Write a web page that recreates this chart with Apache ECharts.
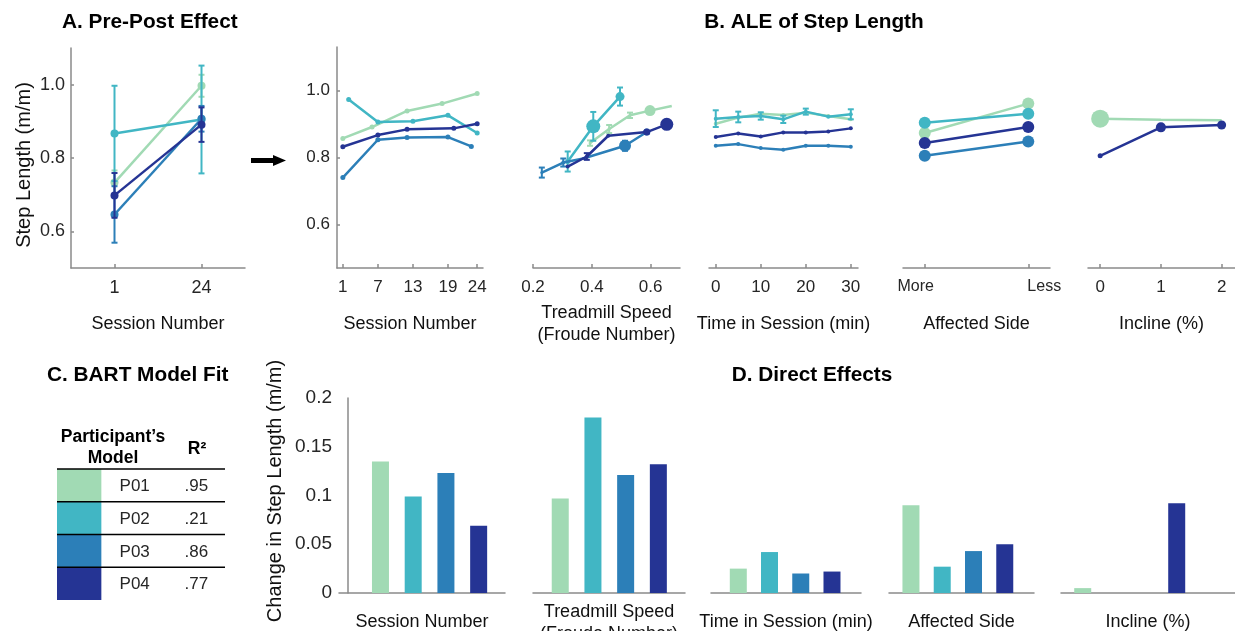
<!DOCTYPE html>
<html><head><meta charset="utf-8">
<script src="https://cdn.jsdelivr.net/npm/echarts@6/dist/echarts.min.js"></script>
<style>html,body{margin:0;padding:0;background:#fff}#c{width:1235px;height:631px}</style>
</head><body><div id="c"></div><script>
// ---------------- DATA ----------------
const participants = ['P01', 'P02', 'P03', 'P04'];
const r2Values = ['.95', '.21', '.86', '.77'];

// A. Pre-post effect (session 1 vs 24)
const prePostSessions = ['1', '24'];
const prePostMean = [[0.733, 0.997], [0.867, 0.905], [0.646, 0.907], [0.698, 0.891]];
const prePostErr  = [[0.033, 0.030], [0.130, 0.147], [0.077, 0.035], [0.061, 0.047]];
const stepTicks = [0.6, 0.8, 1.0];

// B. ALE of step length — Session number
const sessionTicks = [1, 7, 13, 19, 24];
const sessionX = [[1, 6, 12, 18, 24], [2, 7, 13, 19, 24], [1, 7, 12, 19, 23], [1, 7, 12, 20, 24]];
const sessionY = [[0.857, 0.891, 0.939, 0.961, 0.991], [0.973, 0.906, 0.908, 0.926, 0.873],
                  [0.740, 0.853, 0.860, 0.861, 0.833], [0.832, 0.867, 0.884, 0.887, 0.901]];

// Treadmill speed (Froude number)
const speedTicks = [0.2, 0.4, 0.6];
const speedX = [[0.394, 0.459, 0.530, 0.598, 0.672], [0.318, 0.405, 0.496],
                [0.230, 0.303, 0.371, 0.513, 0.587], [0.318, 0.383, 0.456, 0.587, 0.655]];
const speedY = [[0.843, 0.885, 0.926, 0.940, 0.954], [0.788, 0.893, 0.982],
                [0.755, 0.785, 0.797, 0.835, 0.876], [0.773, 0.803, 0.865, 0.876, 0.899]];
const speedErr = [[0.008, 0.012, 0.008, 0, 0], [0.030, 0.043, 0.027],
                  [0.015, 0.012, 0, 0.015, 0], [0, 0.010, 0, 0, 0]];

// Time in session (min)
const timeTicks = [0, 10, 20, 30];
const timeX = [0, 5, 10, 15, 20, 25, 30];
const timeY = [[0.901, 0.919, 0.931, 0.927, 0.934, 0.924, 0.914],
               [0.916, 0.921, 0.924, 0.914, 0.937, 0.922, 0.929],
               [0.835, 0.840, 0.828, 0.823, 0.835, 0.835, 0.832],
               [0.861, 0.872, 0.863, 0.875, 0.875, 0.878, 0.887]];
const timeErr = [[0, 0, 0, 0, 0, 0, 0],
                 [0.025, 0.016, 0.011, 0.011, 0.009, 0, 0.015],
                 [0, 0, 0, 0, 0, 0, 0],
                 [0, 0, 0, 0, 0, 0, 0]];

// Affected side
const sideLabels = ['More', 'Less'];
const sideY = [[0.873, 0.961], [0.904, 0.931], [0.805, 0.848], [0.843, 0.891]];

// Incline (%)
const inclineTicks = [0, 1, 2];
const inclineX = [0, 1, 2];
const inclineY = [[0.916, 0.913, 0.911], null, null, [0.805, 0.890, 0.897]];

// D. Direct effects (change in step length, m/m)
const effectNames = ['Session Number', 'Treadmill Speed\n(Froude Number)', 'Time in Session (min)', 'Affected Side', 'Incline (%)'];
const directEffects = [[0.135, 0.099, 0.123, 0.069],
                       [0.097, 0.180, 0.121, 0.132],
                       [0.025, 0.042, 0.020, 0.022],
                       [0.090, 0.027, 0.043, 0.050],
                       [0.005, 0, 0, 0.092]];

// ---------------- STYLE ----------------
const COLORS = ['#a1dab4', '#41b6c4', '#2c7fb8', '#253494'];
const FONT = "'Liberation Sans', Arial, Helvetica, sans-serif";
const AX = { color: '#8a8a8a', width: 1.5 };
// marker diameters (px) per point, reflecting the marker weighting of the original
const speedMarker = [[3, 3, 3, 11, 0], [5, 14, 9], [3, 4, 3, 12, 7], [4, 4, 4, 7, 13]];
const inclineMarker = [[18, 0, 0], null, null, [5, 10, 9]];

const yB = { min: 0.47, max: 1.13 };

const grids = [
  { left: 71, top: 48, width: 174, height: 220 },     // 0 A
  { left: 337, top: 47, width: 146, height: 221 },    // 1 session
  { left: 533, top: 47, width: 147, height: 221 },    // 2 speed
  { left: 709, top: 47, width: 149, height: 221 },    // 3 time
  { left: 903, top: 47, width: 147, height: 221 },    // 4 side
  { left: 1088, top: 47, width: 147, height: 221 },   // 5 incline
  { left: 339, top: 398, width: 166, height: 195 },   // 6 D
  { left: 533, top: 398, width: 152, height: 195 },   // 7
  { left: 711, top: 398, width: 150, height: 195 },   // 8
  { left: 889, top: 398, width: 145, height: 195 },   // 9
  { left: 1061, top: 398, width: 174, height: 195 },  // 10
  { left: 57, top: 469, width: 168, height: 131 }     // 11 table
];

const nameStyle = { fontSize: 18, color: '#111', fontFamily: FONT, lineHeight: 22 };
const labStyle = (fs) => ({ fontSize: fs, color: '#262626', fontFamily: FONT });

function valX(gi, min, max, ticks, fmt, name, gap, fs, rich) {
  const lab = Object.assign({ show: true, customValues: ticks, formatter: fmt, margin: 11 }, labStyle(fs || 17));
  if (rich) lab.rich = rich;
  return {
    type: 'value', gridIndex: gi, min, max,
    axisLine: { show: true, onZero: false, lineStyle: AX },
    axisTick: { show: true, inside: true, length: 4, customValues: ticks, lineStyle: AX },
    axisLabel: lab,
    splitLine: { show: false },
    name, nameLocation: 'middle', nameGap: gap, nameTextStyle: nameStyle
  };
}
function hiddenY(gi, min, max) {
  return { type: 'value', gridIndex: gi, min, max, show: false, splitLine: { show: false } };
}
function barX(gi, min, max, name, gap) {
  return {
    type: 'value', gridIndex: gi, min, max,
    axisLine: { show: true, onZero: false, lineStyle: AX },
    axisTick: { show: false }, axisLabel: { show: false }, splitLine: { show: false },
    name, nameLocation: 'middle', nameGap: gap, nameTextStyle: nameStyle
  };
}
const f1 = v => Number(v).toFixed(1);
const sideRich = {
  m: { fontSize: 16, color: '#262626', fontFamily: FONT, padding: [0, 18, 0, 0] },
  l: { fontSize: 16, color: '#262626', fontFamily: FONT, padding: [0, 0, 0, 32] }
};
const sideFmt = v => (Math.round(v) === 0 ? '{m|' : '{l|') + sideLabels[Math.round(v)] + '}';

const xAxes = [
  { type: 'category', gridIndex: 0, data: prePostSessions, boundaryGap: true,
    axisLine: { show: true, lineStyle: AX },
    axisTick: { show: true, inside: true, length: 4, alignWithLabel: true, lineStyle: AX },
    axisLabel: Object.assign({ margin: 11 }, labStyle(18)),
    name: 'Session Number', nameLocation: 'middle', nameGap: 45, nameTextStyle: nameStyle },
  valX(1, 0, 25, sessionTicks, v => String(v), 'Session Number', 45),
  valX(2, 0.2, 0.7, speedTicks, f1, 'Treadmill Speed\n(Froude Number)', 34),
  valX(3, -1.5, 31.6, timeTicks, v => String(v), 'Time in Session (min)', 45),
  valX(4, -0.21, 1.21, [0, 1], sideFmt, 'Affected Side', 45, 16, sideRich),
  valX(5, -0.2, 2.22, inclineTicks, v => String(v), 'Incline (%)', 45),
  barX(6, -0.267, 4.805, effectNames[0], 18),
  barX(7, 0.167, 4.815, effectNames[1], 8),
  barX(8, 0.126, 4.929, effectNames[2], 18),
  barX(9, 0.298, 4.935, effectNames[3], 18),
  barX(10, 0.307, 5.86, effectNames[4], 18),
  { type: 'value', gridIndex: 11, min: 0, max: 1, show: false }
];

const yAxes = [
  { type: 'value', gridIndex: 0, min: 0.5, max: 1.1,
    axisLine: { show: true, lineStyle: AX },
    axisTick: { show: true, inside: true, length: 3, customValues: stepTicks, lineStyle: AX },
    axisLabel: Object.assign({ customValues: stepTicks, formatter: f1, margin: 6 }, labStyle(18)),
    splitLine: { show: false } },
  { type: 'value', gridIndex: 1, min: yB.min, max: yB.max,
    axisLine: { show: true, lineStyle: AX },
    axisTick: { show: true, inside: true, length: 3, customValues: stepTicks, lineStyle: AX },
    axisLabel: Object.assign({ customValues: stepTicks, formatter: f1, margin: 7 }, labStyle(17)),
    splitLine: { show: false } },
  hiddenY(2, yB.min, yB.max), hiddenY(3, yB.min, yB.max), hiddenY(4, yB.min, yB.max), hiddenY(5, yB.min, yB.max),
  { type: 'value', gridIndex: 6, min: 0, max: 0.2, interval: 0.05,
    axisLine: { show: true, lineStyle: AX }, axisTick: { show: false },
    axisLabel: Object.assign({ margin: 7 }, labStyle(19)), splitLine: { show: false } },
  hiddenY(7, 0, 0.2), hiddenY(8, 0, 0.2), hiddenY(9, 0, 0.2), hiddenY(10, 0, 0.2),
  { type: 'category', gridIndex: 11, data: participants, inverse: true, show: false }
];

function errRender(params, api) {
  const x = api.value(0), lo = api.value(1), hi = api.value(2);
  if (!(hi > lo)) return null;
  const a = api.coord([x, hi]), b = api.coord([x, lo]);
  const cw = 3;
  const style = { stroke: api.visual('color'), lineWidth: 2 };
  return { type: 'group', children: [
    { type: 'line', shape: { x1: a[0], y1: a[1], x2: b[0], y2: b[1] }, style },
    { type: 'line', shape: { x1: a[0] - cw, y1: a[1], x2: a[0] + cw, y2: a[1] }, style },
    { type: 'line', shape: { x1: b[0] - cw, y1: b[1], x2: b[0] + cw, y2: b[1] }, style }
  ] };
}
function errSeries(ax, i, pts) {
  return { type: 'custom', xAxisIndex: ax, yAxisIndex: ax, z: 2 + i, silent: true,
    itemStyle: { color: COLORS[i] }, renderItem: errRender, encode: { x: 0, y: [1, 2] }, data: pts };
}
function lineSeries(ax, i, data, size) {
  return { type: 'line', xAxisIndex: ax, yAxisIndex: ax, z: 2 + i, silent: true,
    data, symbol: 'circle', symbolSize: size, showSymbol: true,
    lineStyle: { width: 2.5, color: COLORS[i] }, itemStyle: { color: COLORS[i], borderWidth: 0 } };
}

const series = [];
participants.forEach((p, i) => {
  series.push(errSeries(0, i, prePostMean[i].map((m, j) => [j, m - prePostErr[i][j], m + prePostErr[i][j]])));
  series.push(lineSeries(0, i, prePostMean[i], 8));
  series.push(lineSeries(1, i, sessionX[i].map((x, j) => [x, sessionY[i][j]]), 5));
  series.push(errSeries(2, i, speedX[i].map((x, j) => [x, speedY[i][j] - speedErr[i][j], speedY[i][j] + speedErr[i][j]])));
  const sm = speedMarker[i];
  series.push(lineSeries(2, i, speedX[i].map((x, j) => [x, speedY[i][j]]), (v, pr) => sm[pr.dataIndex]));
  series.push(errSeries(3, i, timeX.map((x, j) => [x, timeY[i][j] - timeErr[i][j], timeY[i][j] + timeErr[i][j]])));
  series.push(lineSeries(3, i, timeX.map((x, j) => [x, timeY[i][j]]), 4));
  series.push(lineSeries(4, i, sideY[i].map((y, j) => [j, y]), 12));
  if (inclineY[i]) {
    const im = inclineMarker[i];
    series.push(lineSeries(5, i, inclineX.map((x, j) => [x, inclineY[i][j]]), (v, pr) => im[pr.dataIndex]));
  }
});
directEffects.forEach((vals, g) => {
  series.push({ type: 'bar', xAxisIndex: 6 + g, yAxisIndex: 6 + g, barWidth: 17, silent: true,
    data: vals.map((v, i) => ({ value: [i + 1, v], itemStyle: { color: COLORS[i] } })) });
});
// table C
series.push({ type: 'custom', xAxisIndex: 11, yAxisIndex: 11, silent: true,
  data: participants.map((p, i) => [0, i]), encode: { x: 0, y: 1 },
  renderItem: (params, api) => {
    const i = params.dataIndex;
    const cs = params.coordSys;
    const c = api.coord([0, api.value(1)]);
    const bh = api.size([0, 1])[1];
    const top = c[1] - bh / 2;
    const ts = { fill: '#262626', fontSize: 17, fontFamily: FONT, align: 'center', verticalAlign: 'middle' };
    return { type: 'group', children: [
      { type: 'rect', shape: { x: cs.x, y: top, width: cs.width * 0.264, height: bh }, style: { fill: COLORS[i] } },
      { type: 'line', shape: { x1: cs.x, y1: top, x2: cs.x + cs.width, y2: top }, style: { stroke: '#000', lineWidth: 1.5 } },
      { type: 'text', x: cs.x + cs.width * 0.4625, y: c[1] + 1, style: Object.assign({ text: participants[i] }, ts) },
      { type: 'text', x: cs.x + cs.width * 0.83, y: c[1] + 1, style: Object.assign({ text: r2Values[i] }, ts) }
    ] };
  } });

const T = (text, x, y, opt) => ({ type: 'text', x, y, silent: true,
  style: Object.assign({ text, fill: '#000', fontFamily: FONT, fontSize: 20.8, fontWeight: 'bold', align: 'left', verticalAlign: 'middle' }, opt || {}) });

const graphic = [
  T('A. Pre-Post Effect', 62, 22),
  T('B. ALE of Step Length', 814, 22, { align: 'center' }),
  T('C. BART Model Fit', 47, 375),
  T('D. Direct Effects', 812, 375, { align: 'center' }),
  Object.assign(T('Step Length (m/m)', 24, 165, { fontSize: 20, fontWeight: 'normal', align: 'center', fill: '#111' }), { rotation: Math.PI / 2 }),
  Object.assign(T('Change in Step Length (m/m)', 275, 491, { fontSize: 20, fontWeight: 'normal', align: 'center', fill: '#111' }), { rotation: Math.PI / 2 }),
  T('Participant\u2019s', 113, 437, { fontSize: 17.5, align: 'center' }),
  T('Model', 113, 458, { fontSize: 17.5, align: 'center' }),
  T('R\u00B2', 197, 449, { fontSize: 17.5, align: 'center' }),
  { type: 'line', silent: true, shape: { x1: 251, y1: 160.5, x2: 276, y2: 160.5 }, style: { stroke: '#000', lineWidth: 5 } },
  { type: 'polygon', silent: true, shape: { points: [[273, 155], [286, 160.5], [273, 166]] }, style: { fill: '#000' } }
];

const chart = echarts.init(document.getElementById('c'), null, { renderer: 'canvas' });
chart.setOption({
  animation: false,
  backgroundColor: '#fff',
  textStyle: { fontFamily: FONT },
  grid: grids.map(g => Object.assign({ containLabel: false, outerBoundsMode: 'none' }, g)),
  xAxis: xAxes, yAxis: yAxes, series, graphic
});
</script></body></html>
